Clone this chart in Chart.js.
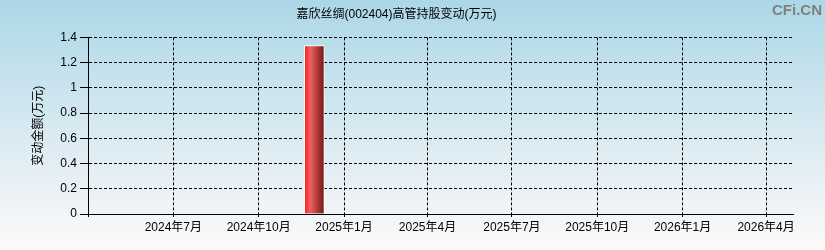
<!DOCTYPE html>
<html>
<head>
<meta charset="utf-8">
<script src="https://cdn.jsdelivr.net/npm/chart.js@4/dist/chart.umd.min.js"></script>
<style>
  html, body { margin: 0; padding: 0; }
  #wrap { width: 825px; height: 250px; }
</style>
</head>
<body>
<div id="wrap"><canvas id="chart" width="825" height="250"></canvas></div>
<script>
// ─── Data ────────────────────────────────────────────────────────────────────

const chartTitle  = '嘉欣丝绸(002404)高管持股变动(万元)';
const yTitle      = '变动金额(万元)';
const xRange      = ['2024-03-31', '2026-04-30'];
const tickDates   = ['2024-07-01', '2024-10-01', '2025-01-01', '2025-04-01',
                     '2025-07-01', '2025-10-01', '2026-01-01', '2026-04-01'];
const tickLabels  = ['2024年7月', '2024年10月', '2025年1月', '2025年4月',
                     '2025年7月', '2025年10月', '2026年1月', '2026年4月'];
const yTicks      = [0, 0.2, 0.4, 0.6, 0.8, 1, 1.2, 1.4];
const yTickLabels = ['0', '0.2', '0.4', '0.6', '0.8', '1', '1.2', '1.4'];
const barDates    = ['2024-11-30'];
const barValues   = [1.336];

// ─── Helpers ─────────────────────────────────────────────────────────────────

const FONT = '"Liberation Sans", Arial, "Noto Sans CJK SC", sans-serif';

// date string -> day number, so a plain linear axis can act as a time axis
function toDay(s) {
  const [y, m, d] = s.split('-').map(Number);
  return Date.UTC(y, m - 1, d) / 864e5;
}

const xTickDays = [toDay(xRange[0]), ...tickDates.map(toDay)];
const xTickText = ['', ...tickLabels];

const backdrop = {
  id: 'backdrop',
  beforeDraw(chart) {
    const { ctx, width, height } = chart;
    const g = ctx.createLinearGradient(0, 0, 0, height);
    g.addColorStop(0, '#acd7e7');
    g.addColorStop(0.5, '#d6e9f1');
    g.addColorStop(1, '#fdf9f9');
    ctx.save();
    ctx.fillStyle = g;
    ctx.fillRect(0, 0, width, height);
    ctx.restore();
  },
  afterDraw(chart) {
    const { ctx } = chart;
    ctx.save();
    ctx.font = 'bold 15px ' + FONT;
    ctx.fillStyle = '#808080';
    ctx.textAlign = 'right';
    ctx.textBaseline = 'top';
    ctx.fillText('CFi.CN', 822, 3);
    ctx.restore();
  },
};

function barFill(c) {
  const chart = c.chart;
  if (!chart.chartArea) return '#e02020';
  const raw = c.raw || {};
  const px = chart.scales.x.getPixelForValue(raw.x);
  const g = chart.ctx.createLinearGradient(px - 10, 0, px + 10, 0);
  g.addColorStop(0, '#ff1c1c');
  g.addColorStop(0.3, '#f06060');
  g.addColorStop(1, '#721414');
  return g;
}

const gridOpts = tickLength => ({
  offset: false,
  color: '#000',
  lineWidth: 1,
  tickLength,
  tickColor: '#000',
  tickBorderDash: [],
});

// ─── Chart ───────────────────────────────────────────────────────────────────

new Chart(document.getElementById('chart'), {
  type: 'bar',
  data: {
    datasets: [{
      data: barDates.map((d, i) => ({ x: toDay(d), y: barValues[i] })),
      backgroundColor: barFill,
      borderColor: '#ffffff',
      borderWidth: 1,
      barThickness: 20,
    }],
  },
  plugins: [backdrop],
  options: {
    responsive: false,
    animation: false,
    layout: { padding: { right: 32 } },
    plugins: {
      legend: { display: false },
      tooltip: { enabled: false },
      title: {
        display: true,
        text: chartTitle,
        color: '#000',
        font: { family: FONT, size: 12, weight: 'normal' },
        padding: { top: 7, bottom: 16 },
      },
    },
    scales: {
      x: {
        type: 'linear',
        offset: false,
        min: toDay(xRange[0]),
        max: toDay(xRange[1]),
        afterBuildTicks: s => { s.ticks = xTickDays.map(v => ({ value: v })); },
        afterFit: s => { s.height = 36; },
        ticks: {
          autoSkip: false,
          maxRotation: 0,
          padding: 3,
          color: '#000',
          font: { family: FONT, size: 12 },
          callback: (v, i) => xTickText[i],
        },
        grid: gridOpts(3),
        border: { display: true, color: '#000', width: 1, dash: [3, 2] },
      },
      y: {
        min: 0,
        max: 1.4,
        afterBuildTicks: s => { s.ticks = yTicks.map(v => ({ value: v })); },
        afterFit: s => { s.width = 88; },
        ticks: {
          padding: 3,
          color: '#000',
          font: { family: FONT, size: 12 },
          callback: (v, i) => yTickLabels[i],
        },
        grid: gridOpts(8),
        border: { display: true, color: '#000', width: 1, dash: [3, 2] },
        title: {
          display: true,
          text: yTitle,
          color: '#000',
          font: { family: FONT, size: 12 },
          padding: { top: 31 },
        },
      },
    },
  },
});
</script>
</body>
</html>
